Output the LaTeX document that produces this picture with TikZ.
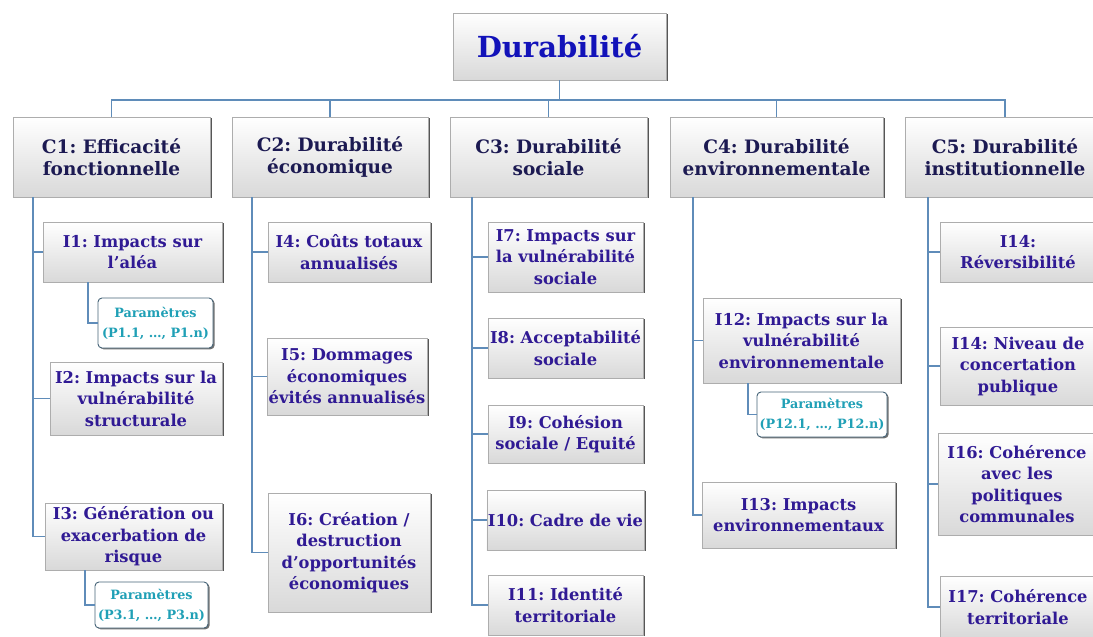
\documentclass[tikz,border=0pt]{standalone}
\usepackage{fontspec}
\setmainfont{DejaVu Serif}
\usetikzlibrary{shadows}
\frenchspacing
\definecolor{conncol}{RGB}{95,140,185}
\definecolor{rootblue}{RGB}{18,18,185}
\definecolor{cnavy}{RGB}{28,26,82}
\definecolor{ipurple}{RGB}{48,26,148}
\definecolor{parteal}{RGB}{32,160,182}
\definecolor{parborder}{RGB}{70,100,120}
\tikzset{
  bx/.style={rectangle, draw=black!32, line width=0.8pt, top color=white, bottom color=black!15,
    drop shadow={shadow xshift=2.2pt, shadow yshift=-1.4pt, fill=black!78, opacity=0.85},
    align=center, inner sep=1pt},
  rootbox/.style={bx, text=rootblue, font=\fontsize{29}{31}\selectfont\bfseries},
  cbox/.style={bx, text=cnavy, font=\fontsize{18.5}{21.5}\selectfont\bfseries},
  ibox/.style={bx, text=ipurple, font=\fontsize{16.3}{21.5}\selectfont\bfseries},
  pbox/.style={rectangle, rounded corners=4pt, fill=white, draw=parborder, line width=0.9pt,
    drop shadow={shadow xshift=1.6pt, shadow yshift=-1.3pt, fill=black!70, opacity=0.8},
    text=parteal, align=center, inner sep=1pt, font=\fontsize{12.8}{20}\selectfont\bfseries},
  conn/.style={draw=conncol, line width=1.1pt}
}
\begin{document}
\begin{tikzpicture}[x=1pt,y=-1pt]
\useasboundingbox (0,0) rectangle (1093,637);
% root
\node[rootbox, minimum width=213pt, minimum height=67pt] (root) at (559.5,46.5) {Durabilité};
% criteria
\node[cbox, minimum width=197pt, minimum height=80pt] (C1) at (111.5,157) {C1: Efficacité\\fonctionnelle};
\node[cbox, minimum width=196pt, minimum height=80pt] (C2) at (330,157) {C2: Durabilité\\économique};
\node[cbox, minimum width=197pt, minimum height=80pt] (C3) at (548.5,157) {C3: Durabilité\\sociale};
\node[cbox, minimum width=213pt, minimum height=80pt] (C4) at (776.5,157) {C4: Durabilité\\environnementale};
\node[cbox, minimum width=200pt, minimum height=80pt] (C5) at (1005,157) {C5: Durabilité\\institutionnelle};
% C1 indicators
\node[ibox, minimum width=179pt, minimum height=60pt] (I1) at (132.5,252) {I1: Impacts sur\\l’aléa};
\node[pbox, minimum width=115pt, minimum height=50pt] (P1) at (155.5,323) {Paramètres\\(P1.1, …, P1.n)};
\node[ibox, minimum width=172pt, minimum height=73pt] (I2) at (136,398.5) {I2: Impacts sur la\\vulnérabilité\\structurale};
\node[ibox, minimum width=177pt, minimum height=67pt] (I3) at (133.5,536.5) {I3: Génération ou\\exacerbation de\\risque};
\node[pbox, minimum width=113pt, minimum height=46pt] (P3) at (151.5,605) {Paramètres\\(P3.1, …, P3.n)};
% C2 indicators
\node[ibox, minimum width=162pt, minimum height=60pt] (I4) at (349,252) {I4: Coûts totaux\\annualisés};
\node[ibox, minimum width=160pt, minimum height=77pt] (I5) at (347,376.5) {I5: Dommages\\économiques\\évités annualisés};
\node[ibox, minimum width=162pt, minimum height=119pt] (I6) at (349,552.5) {I6: Création /\\destruction\\d’opportunités\\économiques};
% C3 indicators
\node[ibox, minimum width=155pt, minimum height=70pt] (I7) at (565.5,257) {I7: Impacts sur\\la vulnérabilité\\sociale};
\node[ibox, minimum width=155pt, minimum height=60pt] (I8) at (565.5,348) {I8: Acceptabilité\\sociale};
\node[ibox, minimum width=155pt, minimum height=58pt] (I9) at (565.5,434) {I9: Cohésion\\sociale / Equité};
\node[ibox, minimum width=155pt, minimum height=60pt] (I10) at (565.5,520) {I10: Cadre de vie};
\node[ibox, minimum width=155pt, minimum height=60pt] (I11) at (565.5,605) {I11: Identité\\territoriale};
% C4 indicators
\node[ibox, minimum width=197pt, minimum height=85pt] (I12) at (801.5,340.5) {I12: Impacts sur la\\vulnérabilité\\environnementale};
\node[pbox, minimum width=130pt, minimum height=45pt] (P12) at (822,414.5) {Paramètres\\(P12.1, …, P12.n)};
\node[ibox, minimum width=193pt, minimum height=66pt] (I13) at (798.5,515) {I13: Impacts\\environnementaux};
% C5 indicators
\node[ibox, minimum width=156pt, minimum height=60pt] (I14a) at (1018,252) {I14:\\Réversibilité};
\node[ibox, minimum width=156pt, minimum height=78pt] (I14b) at (1018,366) {I14: Niveau de\\concertation\\publique};
\node[ibox, minimum width=158pt, minimum height=102pt] (I16) at (1017,484) {I16: Cohérence\\avec les\\politiques\\communales};
\node[ibox, minimum width=156pt, minimum height=62pt] (I17) at (1018,607) {I17: Cohérence\\territoriale};
% connectors
\coordinate (bus) at (559.5,100);
\draw[conn] (root.south) -- (bus);
\draw[conn] (bus) -| (C1.north);
\draw[conn] (bus) -| (C2.north);
\draw[conn] (bus) -| (C3.north);
\draw[conn] (bus) -| (C4.north);
\draw[conn] (bus) -| (C5.north);
\coordinate (t1) at (33,197);
\coordinate (t2) at (252,197);
\coordinate (t3) at (472,197);
\coordinate (t4) at (693,197);
\coordinate (t5) at (928,197);
\draw[conn] (t1) |- (I1.west);
\draw[conn] (t1) |- (I2.west);
\draw[conn] (t1) |- (I3.west);
\draw[conn] (t2) |- (I4.west);
\draw[conn] (t2) |- (I5.west);
\draw[conn] (t2) |- (I6.west);
\draw[conn] (t3) |- (I7.west);
\draw[conn] (t3) |- (I8.west);
\draw[conn] (t3) |- (I9.west);
\draw[conn] (t3) |- (I10.west);
\draw[conn] (t3) |- (I11.west);
\draw[conn] (t4) |- (I12.west);
\draw[conn] (t4) |- (I13.west);
\draw[conn] (t5) |- (I14a.west);
\draw[conn] (t5) |- (I14b.west);
\draw[conn] (t5) |- (I16.west);
\draw[conn] (t5) |- (I17.west);
\coordinate (p1) at (88,282);
\coordinate (p3) at (85,570);
\coordinate (p12) at (748,383);
\draw[conn] (p1) |- (P1.west);
\draw[conn] (p3) |- (P3.west);
\draw[conn] (p12) |- (P12.west);
\end{tikzpicture}
\end{document}
